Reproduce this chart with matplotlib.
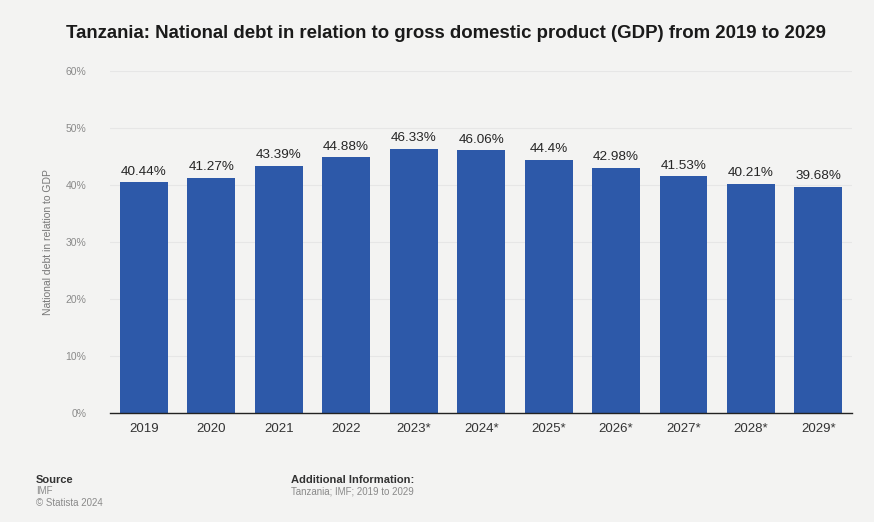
import matplotlib.pyplot as plt
from matplotlib.ticker import FuncFormatter

# ── Dados ──────────────────────────────────────────────────
years = ["2019", "2020", "2021", "2022", "2023*", "2024*", "2025*",
         "2026*", "2027*", "2028*", "2029*"]
debt_pct = [40.44, 41.27, 43.39, 44.88, 46.33, 46.06, 44.4,
            42.98, 41.53, 40.21, 39.68]
bar_labels = ["40.44%", "41.27%", "43.39%", "44.88%", "46.33%", "46.06%",
              "44.4%", "42.98%", "41.53%", "40.21%", "39.68%"]
y_ticks = [0, 10, 20, 30, 40, 50, 60]

BG = "#f3f3f2"
BAR = "#2d59a9"

plt.rcParams["font.family"] = ["Liberation Sans", "DejaVu Sans"]

fig = plt.figure(figsize=(8.74, 5.22), dpi=100, facecolor=BG)
ax = fig.add_axes([0.126, 0.209, 0.849, 0.655], facecolor=BG)

x = list(range(len(years)))
bars = ax.bar(x, debt_pct, width=0.71, color=BAR, zorder=3)

# rótulos em cima das barras
for xi, v, lbl in zip(x, debt_pct, bar_labels):
    ax.text(xi, v + 0.8, lbl, ha="center", va="bottom", fontsize=9.7,
            color="#262626")

ax.set_xlim(-0.5, 10.5)
ax.set_ylim(0, 60)
ax.set_yticks(y_ticks)
ax.yaxis.set_major_formatter(FuncFormatter(lambda v, p: f"{int(v)}%"))
ax.set_xticks(x)
ax.set_xticklabels(years, fontsize=9.5, color="#333333")
ax.tick_params(axis="y", length=0, labelsize=7.5, labelcolor="#8a8a8a", pad=17)
ax.tick_params(axis="x", length=0, pad=7)

ax.grid(axis="y", color="#e6e6e6", linewidth=0.8, zorder=0)
for s in ["top", "right", "left"]:
    ax.spines[s].set_visible(False)
ax.spines["bottom"].set_color("#222222")
ax.spines["bottom"].set_linewidth(1.0)
ax.spines["bottom"].set_zorder(4)

ax.set_ylabel("National debt in relation to GDP", fontsize=7.5,
              color="#777777", labelpad=9)

fig.text(0.075, 0.935, "Tanzania: National debt in relation to gross domestic product (GDP) from 2019 to 2029",
         fontsize=13.4, fontweight="bold", color="#1a1a1a", ha="left", va="center")

# rodapé
fig.text(0.041, 0.080, "Source", fontsize=8, fontweight="bold", color="#333333", va="center")
fig.text(0.041, 0.059, "IMF", fontsize=7, color="#8a8a8a", va="center")
fig.text(0.041, 0.037, "© Statista 2024", fontsize=7, color="#8a8a8a", va="center")
fig.text(0.333, 0.080, "Additional Information:", fontsize=8, fontweight="bold",
         color="#333333", va="center")
fig.text(0.333, 0.059, "Tanzania; IMF; 2019 to 2029", fontsize=7, color="#8a8a8a",
         va="center")

fig.savefig("out.png", dpi=100, facecolor=BG)
